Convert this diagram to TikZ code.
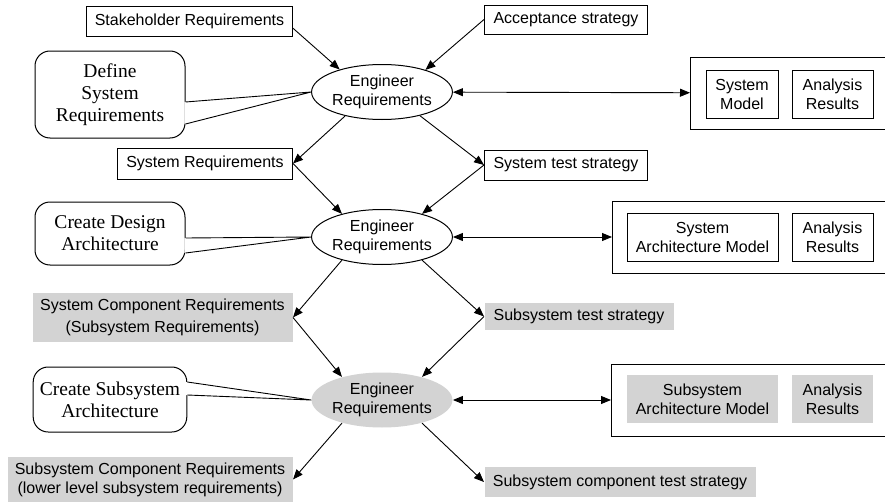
\documentclass[tikz,border=0pt]{standalone}
\usepackage{fontspec}
\setmainfont{Liberation Serif}
\setsansfont{Liberation Sans}
\usepackage{tikz}
\usetikzlibrary{arrows.meta, shapes.geometric}
\definecolor{shade}{RGB}{211,211,211}
\tikzset{
  % a requirements or strategy document
  doc/.style   = {draw, line width=0.5pt, inner sep=1pt, align=center,
                  font=\sffamily\fontsize{8}{9.5}\selectfont},
  % the grey documents of the subsystem level
  gdoc/.style  = {doc, draw=none, fill=shade},
  % the engineering activity
  act/.style   = {draw, ellipse, line width=0.5pt, inner sep=0pt, align=center,
                  minimum width=55pt, minimum height=27.5pt,
                  font=\sffamily\fontsize{8}{9.5}\selectfont},
  % the frame round model and results (runs off the right edge)
  hold/.style  = {draw, line width=0.5pt, anchor=west, minimum height=36pt},
  % a callout naming the step
  note/.style  = {draw, line width=0.5pt, rounded corners=7.5pt, align=center,
                  minimum width=75pt, font=\fontsize{9.75}{11}\selectfont},
  % a flow of information
  fl/.style    = {-{Triangle[length=5pt,width=4pt]}, line width=0.45pt},
  % the two way link to the models
  bfl/.style   = {{Triangle[length=5pt,width=4pt]}-{Triangle[length=5pt,width=4pt]},
                  line width=0.45pt},
}
% the tail of a callout, from its east side to an activity
\newcommand{\calltail}[4]{%
  \fill[white] ([xshift=-0.6pt,yshift=#3]#1.east) -- (#2.west)
               -- ([xshift=-0.6pt,yshift=#4]#1.east) -- cycle;
  \draw[line width=0.45pt, line join=round]
        ([yshift=#3]#1.east) -- (#2.west) -- ([yshift=#4]#1.east);
}

\begin{document}
\begin{tikzpicture}[x=0.5pt, y=-0.5pt]
  \useasboundingbox (0,0) rectangle (885,503);
  \clip (0,0) rectangle (885,503);
  % system level
  \node[doc, anchor=east, minimum width=103pt, minimum height=15pt]
        (stake) at (293,21) {Stakeholder Requirements};
  \node[doc, anchor=west, minimum width=81.5pt, minimum height=14.5pt]
        (accept) at (484,19.5) {Acceptance strategy};
  \node[act] (er1) at (382,92) {Engineer\\Requirements};
  \node[note, minimum height=43.5pt] (c1) at (110,94.5)
        {Define\\System\\Requirements};
  \node[hold, minimum width=108pt] (ob1) at (690,93) {};
  \node[doc, minimum width=36pt, minimum height=24pt] (sm1) at (742,94)
        {System\\Model};
  \node[doc, minimum width=40.5pt, minimum height=24pt] (ar1) at (832.5,94)
        {Analysis\\Results};
  % design level
  \node[doc, anchor=east, minimum width=87.5pt, minimum height=15.5pt]
        (sysreq) at (293,163.5) {System Requirements};
  \node[doc, anchor=west, minimum width=81.5pt, minimum height=15pt]
        (systest) at (484,165) {System test strategy};
  \node[act] (er2) at (382,237) {Engineer\\Requirements};
  \node[note, minimum height=31.5pt] (c2) at (110,233.5)
        {Create Design\\Architecture};
  \node[hold, minimum width=147pt] (ob2) at (612,237) {};
  \node[doc, minimum width=75.5pt, minimum height=24pt] (sam2) at (702.5,237)
        {System\\Architecture Model};
  \node[doc, minimum width=40.5pt, minimum height=24pt] (ar2) at (832.5,237)
        {Analysis\\Results};
  % subsystem level
  \node[gdoc, anchor=east, minimum width=130pt, minimum height=24.5pt]
        (sysco) at (293,317.5)
        {System Component Requirements\\[1.5pt](Subsystem Requirements)};
  \node[gdoc, anchor=west, minimum width=94.5pt, minimum height=13.5pt]
        (subtest) at (484,316.5) {Subsystem test strategy};
  \node[act, draw=none, fill=shade] (er3) at (382,400) {Engineer\\Requirements};
  \node[note, minimum height=32.5pt] (c3) at (110,399.5)
        {Create Subsystem\\Architecture};
  \node[hold, minimum width=147.5pt] (ob3) at (611,400) {};
  \node[gdoc, minimum width=75.5pt, minimum height=24pt] (sam3) at (702.5,399)
        {Subsystem\\Architecture Model};
  \node[gdoc, minimum width=40.5pt, minimum height=24pt] (ar3) at (832.5,399)
        {Analysis\\Results};
  \node[gdoc, anchor=east, minimum width=142.5pt, minimum height=22.5pt]
        (subco) at (293,479.5)
        {Subsystem Component Requirements\\(lower level subsystem requirements)};
  \node[gdoc, anchor=west, minimum width=135.5pt, minimum height=15pt]
        (subcotest) at (484,482) {Subsystem component test strategy};
  % callout tails
  \calltail{c1}{er1}{-3.75pt}{-14.75pt}
  \calltail{c2}{er2}{-2.25pt}{-9.75pt}
  \calltail{c3}{er3}{8.75pt}{2.25pt}
  % flows
  \draw[fl] (stake.-4) -- (er1.152);
  \draw[fl] (accept.west) -- (er1.27);
  \draw[fl] (er1.213) -- (sysreq.east);
  \draw[fl] (er1.328) -- (systest.west);
  \draw[fl] (sysreq.east) -- (er2.150);
  \draw[fl] (systest.west) -- (er2.30);
  \draw[fl] (er2.210) -- (sysco.east);
  \draw[fl] (er2.330) -- (subtest.west);
  \draw[fl] (sysco.east) -- (er3.150);
  \draw[fl] (subtest.west) -- (er3.30);
  \draw[fl] (er3.210) -- (subco.east);
  \draw[fl] (er3.330) -- (subcotest.west);
  \draw[bfl] (er1) -- (ob1);
  \draw[bfl] (er2) -- (ob2);
  \draw[bfl] (er3) -- (ob3);
\end{tikzpicture}
\end{document}
